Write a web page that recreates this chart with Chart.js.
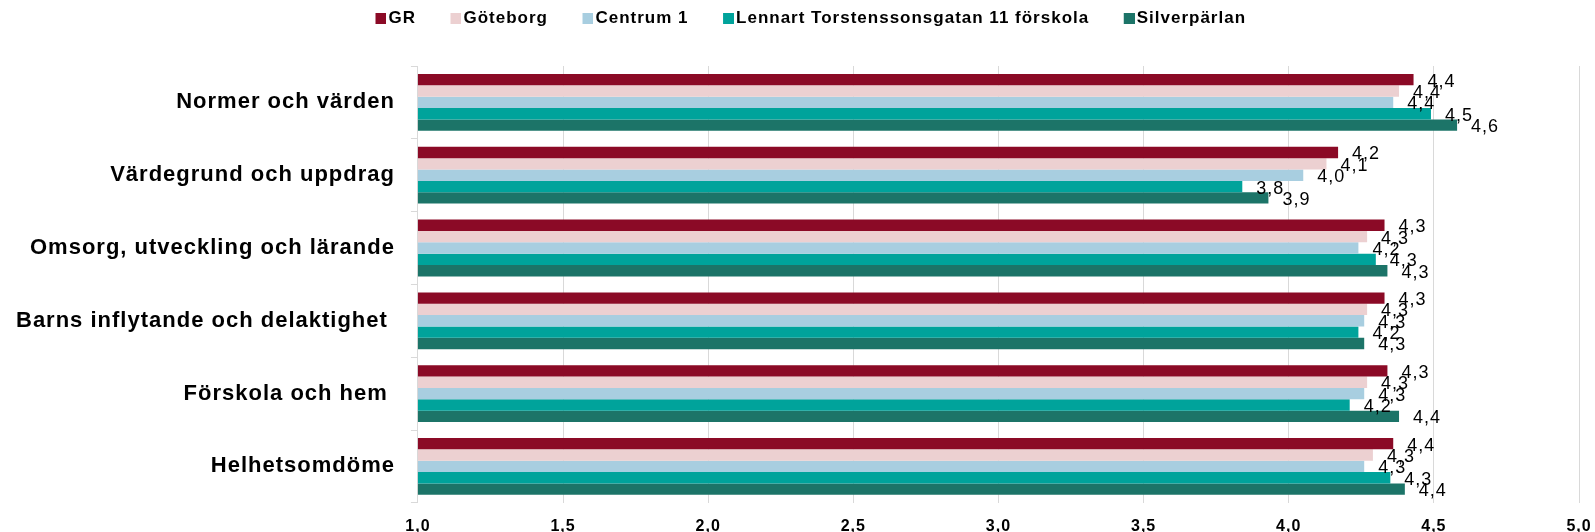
<!DOCTYPE html>
<html>
<head>
<meta charset="utf-8">
<script src="https://cdn.jsdelivr.net/npm/chart.js@4"></script>
<style>
  html, body { margin: 0; padding: 0; background: #fff; }
  #wrap { width: 1595px; height: 532px; }
</style>
</head>
<body>
<div id="wrap"><canvas id="chart" width="1595" height="532"></canvas></div>
<script>
const categories = [
    "Normer och värden",
    "Värdegrund och uppdrag",
    "Omsorg, utveckling och lärande",
    "Barns inflytande och delaktighet ",
    "Förskola och hem ",
    "Helhetsomdöme"
];

const seriesNames = ["GR", "Göteborg", "Centrum 1", "Lennart Torstenssonsgatan 11 förskola", "Silverpärlan"];
const seriesColors = ["#8B0A26", "#ECD0D1", "#A8CEE0", "#00A39B", "#1C7468"];

const gr = [4.43, 4.17, 4.33, 4.33, 4.34, 4.36];
const goteborg = [4.38, 4.13, 4.27, 4.27, 4.27, 4.29];
const centrum1 = [4.36, 4.05, 4.24, 4.26, 4.26, 4.26];
const lennart = [4.49, 3.84, 4.30, 4.24, 4.21, 4.35];
const silverparlan = [4.58, 3.93, 4.34, 4.26, 4.38, 4.40];

const xTicks = [1.0, 1.5, 2.0, 2.5, 3.0, 3.5, 4.0, 4.5, 5.0];

const commaFmt = v => Number(v).toFixed(1).replace(".", ",");

// legend swatch: square sits on the right of a wider image so it hugs the text
function makeSwatch(color) {
    const c = document.createElement("canvas");
    c.width = 24;
    c.height = 11;
    const g = c.getContext("2d");
    g.fillStyle = color;
    g.fillRect(13, 0, 11, 11);
    return c;
}

// letter spacing like the original, set before layout measures text
const spacing = {
    id: "spacing",
    beforeUpdate(chart) { chart.ctx.letterSpacing = "1px"; },
    beforeRender(chart) { chart.ctx.letterSpacing = "1px"; },
    afterLayout(chart) {
        // move the legend up near the top edge and a bit to the right
        chart.legend.top -= 29;
        chart.legend.bottom -= 29;
        chart.legend.left += 18;
        chart.legend.right += 18;
    }
};

// value labels just right of each bar end
const valueLabels = {
    id: "valueLabels",
    afterDatasetsDraw(chart) {
        const ctx = chart.ctx;
        ctx.save();
        ctx.letterSpacing = "1px";
        ctx.font = "18px 'Liberation Sans', Arial, sans-serif";
        ctx.fillStyle = "#000";
        ctx.textAlign = "left";
        ctx.textBaseline = "middle";
        chart.data.datasets.forEach((ds, i) => {
            const meta = chart.getDatasetMeta(i);
            meta.data.forEach((bar, j) => {
                ctx.fillText(commaFmt(ds.data[j]), bar.x + 14, bar.y + 2);
            });
        });
        ctx.restore();
    }
};

const seriesData = [gr, goteborg, centrum1, lennart, silverparlan];

const ctx = document.getElementById("chart").getContext("2d");
const chart = new Chart(ctx, {
    type: "bar",
    data: {
        labels: categories,
        datasets: seriesNames.map((name, i) => ({
            label: name,
            data: seriesData[i],
            backgroundColor: seriesColors[i]
        }))
    },
    options: {
        indexAxis: "y",
        responsive: false,
        animation: false,
        layout: { padding: { left: 0, right: 16, top: 11, bottom: -20 } },
        datasets: {
            bar: { categoryPercentage: 0.78, barPercentage: 1.0, borderWidth: 0 }
        },
        plugins: {
            legend: {
                position: "top",
                labels: {
                    usePointStyle: true,
                    boxWidth: 11,
                    boxHeight: 11,
                    padding: 28,
                    color: "#000",
                    font: { family: "'Liberation Sans', Arial, sans-serif", size: 17, weight: "bold" },
                    generateLabels: chart => chart.data.datasets.map((ds, i) => ({
                        text: ds.label,
                        fillStyle: ds.backgroundColor,
                        strokeStyle: ds.backgroundColor,
                        lineWidth: 0,
                        pointStyle: makeSwatch(ds.backgroundColor),
                        hidden: false,
                        datasetIndex: i
                    }))
                }
            },
            tooltip: { enabled: false }
        },
        scales: {
            x: {
                min: 1,
                max: 5,
                afterBuildTicks: axis => { axis.ticks = xTicks.map(v => ({ value: v })); },
                afterFit: axis => { axis.paddingRight = 0; },
                ticks: {
                    color: "#000",
                    padding: 14,
                    font: { family: "'Liberation Sans', Arial, sans-serif", size: 16, weight: "bold" },
                    callback: v => commaFmt(v)
                },
                grid: { color: "#d9d9d9", drawTicks: false },
                border: { display: false }
            },
            y: {
                ticks: {
                    color: "#000",
                    padding: 16,
                    font: { family: "'Liberation Sans', Arial, sans-serif", size: 22, weight: "bold" }
                },
                grid: { drawOnChartArea: false, color: "#d9d9d9", tickLength: 7, offset: true },
                border: { display: true, color: "#d9d9d9" }
            }
        }
    },
    plugins: [spacing, valueLabels]
});
</script>
</body>
</html>
